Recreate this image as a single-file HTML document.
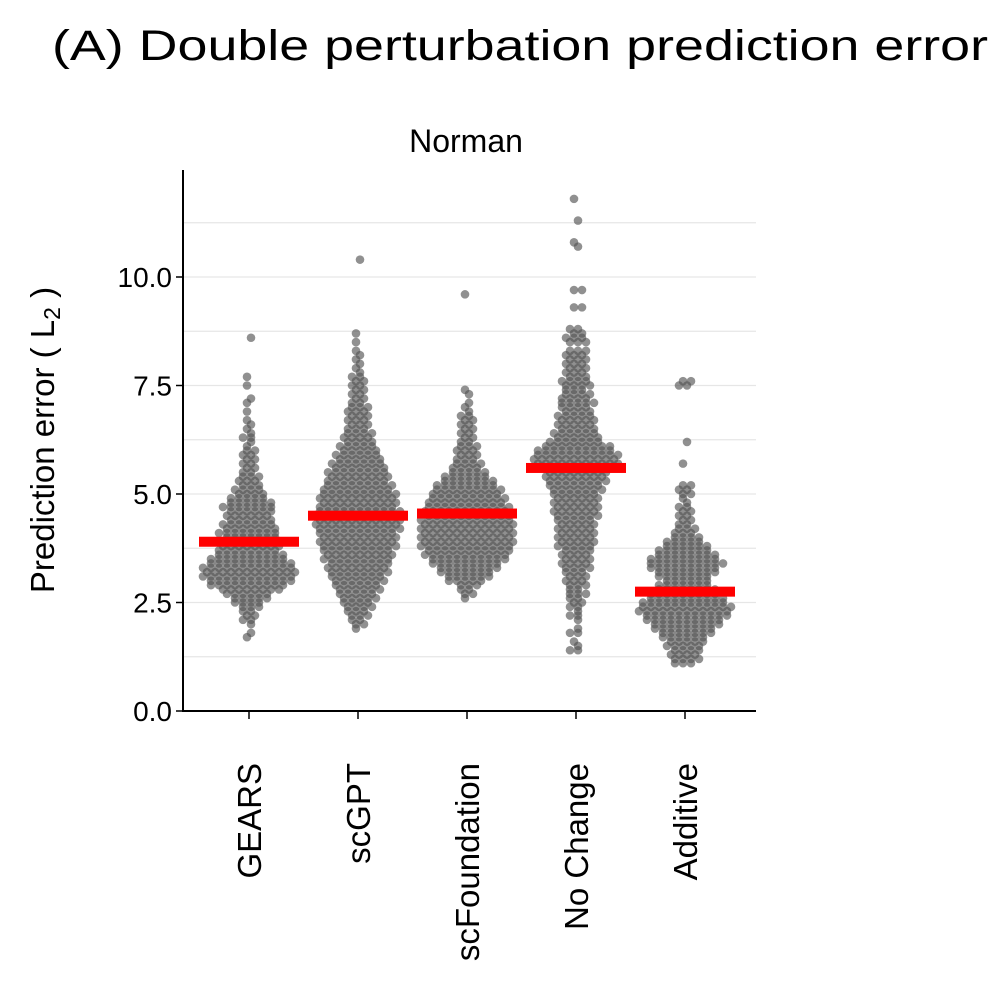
<!DOCTYPE html>
<html><head><meta charset="utf-8"><style>
body{margin:0;background:#fff;width:1000px;height:992px;overflow:hidden}
svg text{font-family:"Liberation Sans",sans-serif;fill:#000}
</style></head><body>
<svg id="chart" width="1000" height="992" xmlns="http://www.w3.org/2000/svg">
<text x="52" y="60" font-size="43" textLength="936" lengthAdjust="spacingAndGlyphs">(A) Double perturbation prediction error</text>
<text x="466" y="152" font-size="32" text-anchor="middle">Norman</text>
<text transform="translate(54,440) rotate(-90)" font-size="33" text-anchor="middle">Prediction error ( L<tspan font-size="23" dy="6">2</tspan><tspan dy="-6"> )</tspan></text>
<g id="grid"></g><g id="dots"></g><g id="means"></g><g id="axes"></g>
</svg>
<script>
const categories=["GEARS","scGPT","scFoundation","No Change","Additive"];
const binStart=[1.7,1.9,2.6,1.4,1.1];
const countsGEARS=[1,1,0,1,2,2,2,3,4,5,6,8,10,11,12,12,12,11,10,9,8,8,7,7,8,7,7,6,6,6,7,6,5,4,4,3,3,3,2,2,2,2,2,2,1,1,2,1,1,1,1,0,1,0,1,1,0,0,1,0,1,0,0,0,0,0,0,0,0,1];
const countsScGPT=[1,2,2,3,3,4,4,5,5,6,6,7,7,8,8,8,9,9,9,10,10,10,10,11,11,11,11,11,10,10,10,10,9,9,8,8,8,7,7,6,6,5,5,4,4,4,3,3,3,3,3,3,2,2,2,2,2,2,2,1,1,1,1,1,1,0,1,0,1,0,0,0,0,0,0,0,0,0,0,0,0,0,0,0,0,1];
const countsScFoundation=[1,2,2,3,5,6,7,8,9,10,11,11,12,12,12,12,12,12,12,11,11,11,10,10,9,9,8,7,6,5,4,4,3,3,3,3,2,2,2,2,2,2,2,1,1,1,0,1,1,0,0,0,0,0,0,0,0,0,0,0,0,0,0,0,0,0,0,0,0,0,1];
const countsNoChange=[2,1,1,0,2,1,0,1,2,1,2,2,2,3,2,3,3,3,3,4,4,4,4,4,5,5,5,5,5,5,5,6,6,6,6,6,6,7,7,8,8,8,10,11,11,11,10,9,7,6,6,5,5,5,5,4,4,5,4,4,3,4,4,3,3,3,3,3,3,3,0,3,3,2,2,0,0,0,0,2,0,0,0,2,0,0,0,0,0,0,0,0,0,1,1,0,0,0,0,1,0,0,0,0,1];
const countsAdditive=[3,4,4,4,5,5,6,7,8,9,10,11,12,12,11,10,9,8,7,6,7,8,9,10,9,8,7,6,5,4,3,3,2,2,2,2,2,1,1,2,2,2,0,0,0,0,1,0,0,0,0,1,0,0,0,0,0,0,0,0,0,0,0,0,2,2];
const means=[3.9,4.5,4.55,5.6,2.75];
const yTicks=[0,2.5,5,7.5,10];
const yTickLabels=["0.0","2.5","5.0","7.5","10.0"];
const counts=[countsGEARS,countsScGPT,countsScFoundation,countsNoChange,countsAdditive];
const NS="http://www.w3.org/2000/svg";
const X0=183,X1=756,Y0=711,PX=43.4;
const y=v=>Y0-v*PX;
const x=i=>249+i*109;
function mk(t,a,p){const e=document.createElementNS(NS,t);for(const k in a)e.setAttribute(k,a[k]);p.appendChild(e);return e;}
const grid=document.getElementById('grid');
for(let g=1.25;g<12;g+=1.25){const l=mk('line',{x1:X0,x2:X1,y1:y(g),y2:y(g),stroke:'#e6e6e6','stroke-width':1.2},grid);

}
const dots=document.getElementById('dots');
counts.forEach((arr,ci)=>{arr.forEach((n,bi)=>{const v=binStart[ci]+bi*0.1;const off=(bi%2)?2:-2;
for(let k=0;k<n;k++){const c=mk('circle',{cx:x(ci)+(k-(n-1)/2)*8+off,cy:y(v),r:4.3,fill:'#555','fill-opacity':0.65},dots);

}});});
const mg=document.getElementById('means');
means.forEach((m,i)=>{const r=mk('rect',{x:x(i)-50,y:y(m)-5,width:100,height:10,fill:'#ff0000'},mg);

});
const ax=document.getElementById('axes');
const ya=mk('line',{x1:X0,x2:X0,y1:170,y2:Y0+1,stroke:'#000','stroke-width':2},ax);


const xa=mk('line',{x1:X0-1,x2:X1,y1:Y0,y2:Y0,stroke:'#000','stroke-width':2},ax);


yTicks.forEach((t,i)=>{mk('line',{x1:X0-7,x2:X0,y1:y(t),y2:y(t),stroke:'#000','stroke-width':1.5},ax);
const tx=mk('text',{x:X0-11,y:y(t)+10,'font-size':28,'text-anchor':'end'},ax);tx.textContent=yTickLabels[i];

});
categories.forEach((c,i)=>{mk('line',{x1:x(i),x2:x(i),y1:Y0,y2:Y0+8,stroke:'#000','stroke-width':1.5},ax);
const tx=mk('text',{transform:`translate(${x(i)+12},${Y0+52}) rotate(-90)`,'font-size':33,'text-anchor':'end'},ax);tx.textContent=c;

});
</script>
</body></html>
